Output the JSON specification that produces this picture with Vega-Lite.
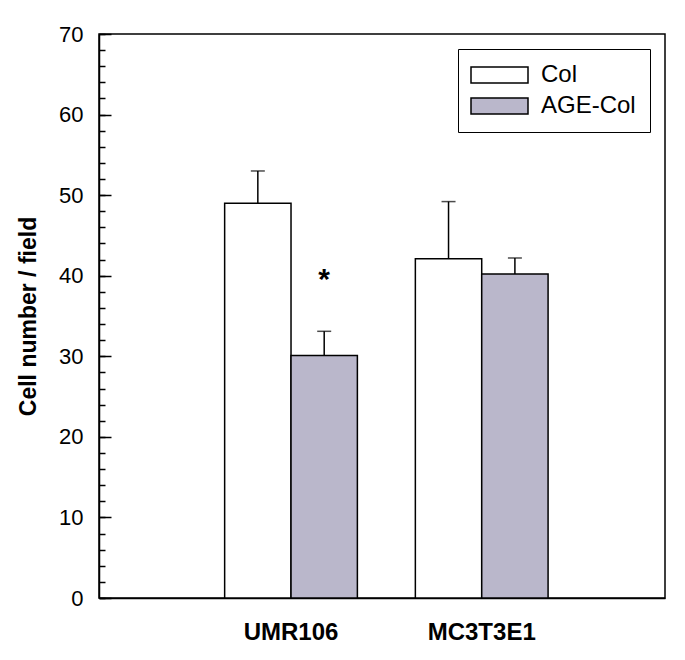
{
  "$schema": "https://vega.github.io/schema/vega-lite/v6.json",
  "width": 566,
  "height": 564,
  "autosize": "none",
  "padding": {"left": 99, "top": 34, "right": 20, "bottom": 62},
  "config": {
    "font": "Liberation Sans",
    "view": {"stroke": "black", "strokeWidth": 1.5},
    "axis": {"grid": false, "domainColor": "black", "labelColor": "black", "titleColor": "black"}
  },
  "data": {
    "values": [
      {"group": "UMR106", "series": "Col", "value": 49.0, "upper": 53.0, "sig": ""},
      {"group": "UMR106", "series": "AGE-Col", "value": 30.1, "upper": 33.1, "sig": "*"},
      {"group": "MC3T3E1", "series": "Col", "value": 42.1, "upper": 49.2, "sig": ""},
      {"group": "MC3T3E1", "series": "AGE-Col", "value": 40.2, "upper": 42.2, "sig": ""}
    ]
  },
  "encoding": {
    "x": {
      "field": "group",
      "type": "nominal",
      "sort": ["UMR106", "MC3T3E1"],
      "scale": {"paddingInner": 0.304, "paddingOuter": 0.636, "align": 0.518},
      "axis": {"title": null, "ticks": false, "labelAngle": 0, "labelFontSize": 24, "labelFontWeight": "bold", "labelPadding": 22, "domainWidth": 1.5}
    },
    "xOffset": {
      "field": "series",
      "type": "nominal",
      "sort": ["Col", "AGE-Col"],
      "scale": {"paddingInner": 0, "paddingOuter": 0}
    }
  },
  "layer": [
    {
      "mark": {"type": "bar", "stroke": "black", "strokeWidth": 1.5},
      "encoding": {
        "y": {
          "field": "value",
          "type": "quantitative",
          "scale": {"domain": [0, 70], "nice": false},
          "axis": {"orient": "left", "title": "Cell number / field", "titleFontSize": 23, "titleFontWeight": "bold", "titlePadding": 18, "values": [0, 10, 20, 30, 40, 50, 60, 70], "ticks": false, "labelPadding": 16, "labelFontSize": 22, "domainWidth": 1.5}
        },
        "fill": {
          "field": "series",
          "type": "nominal",
          "sort": ["Col", "AGE-Col"],
          "scale": {"domain": ["Col", "AGE-Col"], "range": ["white", "#bab7cb"]},
          "legend": {
            "title": null,
            "orient": "none",
            "legendX": 359,
            "legendY": 15,
            "padding": 14,
            "strokeColor": "black",
            "fillColor": "white",
            "symbolType": "M-1.625,-1H5.5V1H-1.625Z",
            "symbolSize": 256,
            "symbolStrokeColor": "black",
            "symbolStrokeWidth": 1.5,
            "symbolOpacity": 1,
            "labelFontSize": 24,
            "labelOffset": 45,
            "rowPadding": 7,
            "labelColor": "black"
          }
        }
      }
    },
    {
      "mark": {"type": "rule", "color": "black", "strokeWidth": 1.5},
      "encoding": {
        "y": {
          "field": "value",
          "type": "quantitative",
          "axis": {"orient": "right", "offset": -566, "title": null, "labels": false, "domain": false, "values": [0, 2, 4, 6, 8, 10, 12, 14, 16, 18, 20, 22, 24, 26, 28, 30, 32, 34, 36, 38, 40, 42, 44, 46, 48, 50, 52, 54, 56, 58, 60, 62, 64, 66, 68, 70], "tickSize": 6, "tickWidth": 1.5, "tickColor": "black", "tickOpacity": 1}
        },
        "y2": {"field": "upper"}
      }
    },
    {
      "mark": {"type": "tick", "color": "black", "thickness": 1.5, "size": 14},
      "encoding": {
        "y": {
          "field": "upper",
          "type": "quantitative",
          "axis": {"orient": "right", "offset": -566, "title": null, "labels": false, "domain": false, "values": [0, 10, 20, 30, 40, 50, 60, 70], "tickSize": 12, "tickWidth": 1.5, "tickColor": "black", "tickOpacity": 1}
        }
      }
    },
    {
      "mark": {"type": "text", "fontSize": 30, "fontWeight": "bold", "color": "black", "baseline": "alphabetic", "dy": -42},
      "encoding": {
        "y": {"field": "upper", "type": "quantitative", "axis": null},
        "text": {"field": "sig"}
      }
    }
  ],
  "resolve": {"axis": {"y": "independent"}}
}
